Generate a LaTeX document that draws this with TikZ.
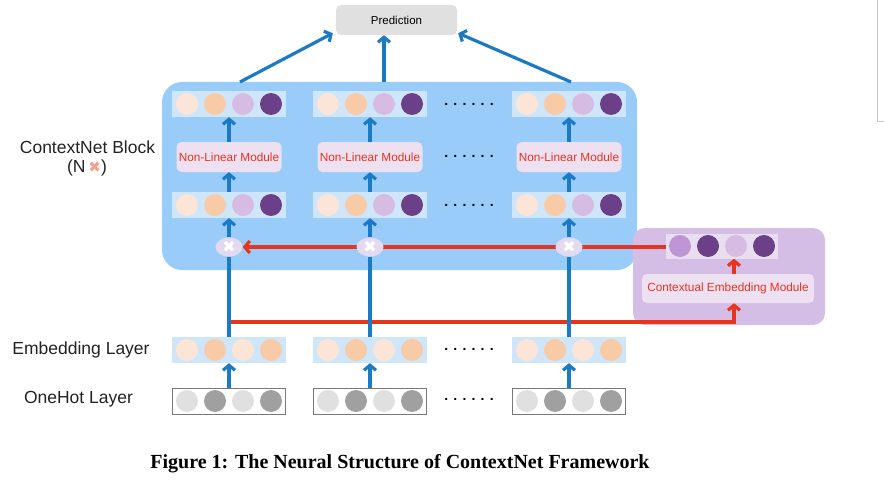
\documentclass[tikz,border=0pt]{standalone}
\usepackage{fontspec}
\setmainfont{Liberation Sans}
\newfontfamily\capfont{Liberation Serif}
\newfontfamily\symfont{DejaVu Sans}
\usetikzlibrary{arrows.meta,positioning,shapes.geometric,backgrounds}

\begin{document}
\begin{tikzpicture}[x=1pt,y=-1pt,
    vecbox/.style={fill=custcol_vec, minimum width=114pt, minimum height=26pt, inner sep=0pt},
    ctxbox/.style={fill=custcol_ctxvec, minimum width=112pt, minimum height=25pt, inner sep=0pt},
    hotbox/.style={draw=custcol_hotline, line width=1pt, fill=white, minimum width=113pt, minimum height=26pt, inner sep=0pt},
    dot/.style={circle, minimum size=22pt, inner sep=0pt},
    modbox/.style={fill=custcol_mod, rounded corners=5pt, text=custcol_red, inner sep=0pt, font=\fontsize{11.8pt}{12pt}\selectfont},
    predbox/.style={fill=custcol_pred, rounded corners=5pt, minimum width=121pt, minimum height=30pt, inner sep=0pt, font=\fontsize{11.5pt}{12pt}\selectfont},
    layername/.style={text=custcol_text, inner sep=0pt, font=\fontsize{17.5pt}{18pt}\selectfont},
    ellipsisdots/.style={inner sep=0pt, font=\bfseries\fontsize{14pt}{14pt}\selectfont},
    mult/.style={ellipse, fill=custcol_mult, text=white, minimum width=27pt, minimum height=19pt, inner sep=0pt, font=\symfont\fontsize{16pt}{16pt}\selectfont},
    blueline/.style={draw=custcol_blue, line width=3.2pt},
    bluearrow/.style={blueline, -{Straight Barb[length=5pt,width=12pt]}},
    redarrow/.style={draw=custcol_red, line width=3.2pt, -{Straight Barb[length=5pt,width=12pt]}}]
  \definecolor{custcol_blue}{RGB}{26, 123, 196}
  \definecolor{custcol_red}{RGB}{232, 52, 30}
  \definecolor{custcol_block}{RGB}{153, 204, 249}
  \definecolor{custcol_ctxblock}{RGB}{213, 190, 229}
  \definecolor{custcol_vec}{RGB}{207, 229, 250}
  \definecolor{custcol_ctxvec}{RGB}{232, 222, 240}
  \definecolor{custcol_mod}{RGB}{236, 224, 241}
  \definecolor{custcol_mult}{RGB}{228, 218, 240}
  \definecolor{custcol_pred}{RGB}{224, 224, 224}
  \definecolor{custcol_peachlt}{RGB}{252, 229, 214}
  \definecolor{custcol_peach}{RGB}{248, 203, 166}
  \definecolor{custcol_lilac}{RGB}{214, 188, 227}
  \definecolor{custcol_orchid}{RGB}{190, 150, 214}
  \definecolor{custcol_plum}{RGB}{108, 64, 136}
  \definecolor{custcol_greylt}{RGB}{224, 224, 224}
  \definecolor{custcol_grey}{RGB}{160, 160, 160}
  \definecolor{custcol_hotline}{RGB}{120, 120, 120}
  \definecolor{custcol_salmon}{RGB}{244, 160, 140}
  \definecolor{custcol_text}{RGB}{34, 34, 34}
  \definecolor{custcol_frame}{RGB}{200, 200, 200}
  % box with four circles: style, name, x, y, colours
  \def\vecrow#1#2#3#4#5#6#7#8{%
    \node[#1] (#2) at (#3,#4) {};
    \node[dot, fill=#5] (#2-a) at (#3-42,#4) {};
    \node[dot, fill=#6] (#2-b) at (#3-14,#4) {};
    \node[dot, fill=#7] (#2-c) at (#3+14,#4) {};
    \node[dot, fill=#8] (#2-d) at (#3+42,#4) {};}
  \useasboundingbox (0,0) rectangle (884,487);
  \begin{scope}[on background layer]
    \fill[custcol_block, rounded corners=20pt] (162,82) rectangle (637,270);
    \fill[custcol_ctxblock, rounded corners=12pt] (633,228) rectangle (825,325);
  \end{scope}
  \draw[custcol_frame, line width=0.8pt] (877,0) |- (884,121);
  % columns
  \foreach \cx/\n in {229/1,370/2,569/3} {
    \vecrow{vecbox}{top\n}{\cx}{104}{custcol_peachlt}{custcol_peach}{custcol_lilac}{custcol_plum}
    \node[modbox, minimum width=105pt, minimum height=30pt] (nlm\n) at (\cx,157) {Non-Linear Module};
    \vecrow{vecbox}{mid\n}{\cx}{205}{custcol_peachlt}{custcol_peach}{custcol_lilac}{custcol_plum}
    \node[mult] (mult\n) at (\cx,247) {✖};
    \vecrow{vecbox}{emb\n}{\cx}{350}{custcol_peachlt}{custcol_peach}{custcol_peachlt}{custcol_peach}
    \vecrow{hotbox}{hot\n}{\cx}{401}{custcol_greylt}{custcol_grey}{custcol_greylt}{custcol_grey}
    \draw[bluearrow] (mid\n.north) -- (nlm\n.south);
    \draw[bluearrow] (nlm\n.north) -- (top\n.south);
    \draw[bluearrow] (mult\n.north) -- (mid\n.south);
    \draw[blueline] (emb\n.north) -- (mult\n.south);
    \draw[bluearrow] (hot\n.north) -- (emb\n.south);
  }
  \foreach \y/\n in {104/1,156/2,205/3,349/4,399/5}
    \node[ellipsisdots] (dots\n) at (469,\y) {. . . . . .};
  % prediction
  \node[predbox] (pred) at (396.5,20) {Prediction};
  \coordinate (out1) at (240,82);
  \coordinate (out2) at (384,82);
  \coordinate (out3) at (571,82);
  \draw[bluearrow] (out1) -- ([xshift=-3pt,yshift=2pt]pred.south west);
  \draw[bluearrow] (out2) -- (out2 |- pred.south);
  \draw[bluearrow] (out3) -- ([xshift=1pt,yshift=2pt]pred.south east);
  % contextual embedding
  \vecrow{ctxbox}{ctxvec}{722}{246}{custcol_orchid}{custcol_plum}{custcol_lilac}{custcol_plum}
  \node[modbox, minimum width=172pt, minimum height=29pt] (cem) at (728,288.5) {Contextual Embedding Module};
  \coordinate (tap) at (229,322);
  \begin{scope}[on background layer]
    \draw[redarrow] (ctxvec.west |- mult1) -- (mult1.east);
    \draw[redarrow] (tap) -| ([xshift=6pt]cem.south);
    \draw[redarrow] ([xshift=6pt]cem.north) -- ([xshift=6pt]cem.north |- ctxvec.south);
  \end{scope}
  % layer names
  \node[layername] (blocklbl) at (87.5,147) {ContextNet Block};
  \node[layername] (nlbl) at (87,168) {(N\,{\symfont\fontsize{15pt}{15pt}\selectfont\color{custcol_salmon}✖})};
  \node[layername] (emblbl) at (81,350) {Embedding Layer};
  \node[layername] (hotlbl) at (78.5,399) {OneHot Layer};
  \node[inner sep=0pt, font=\capfont\bfseries\fontsize{20pt}{21pt}\selectfont] (caption) at (400,464) {Figure 1: The Neural Structure of ContextNet Framework};
\end{tikzpicture}
\end{document}
